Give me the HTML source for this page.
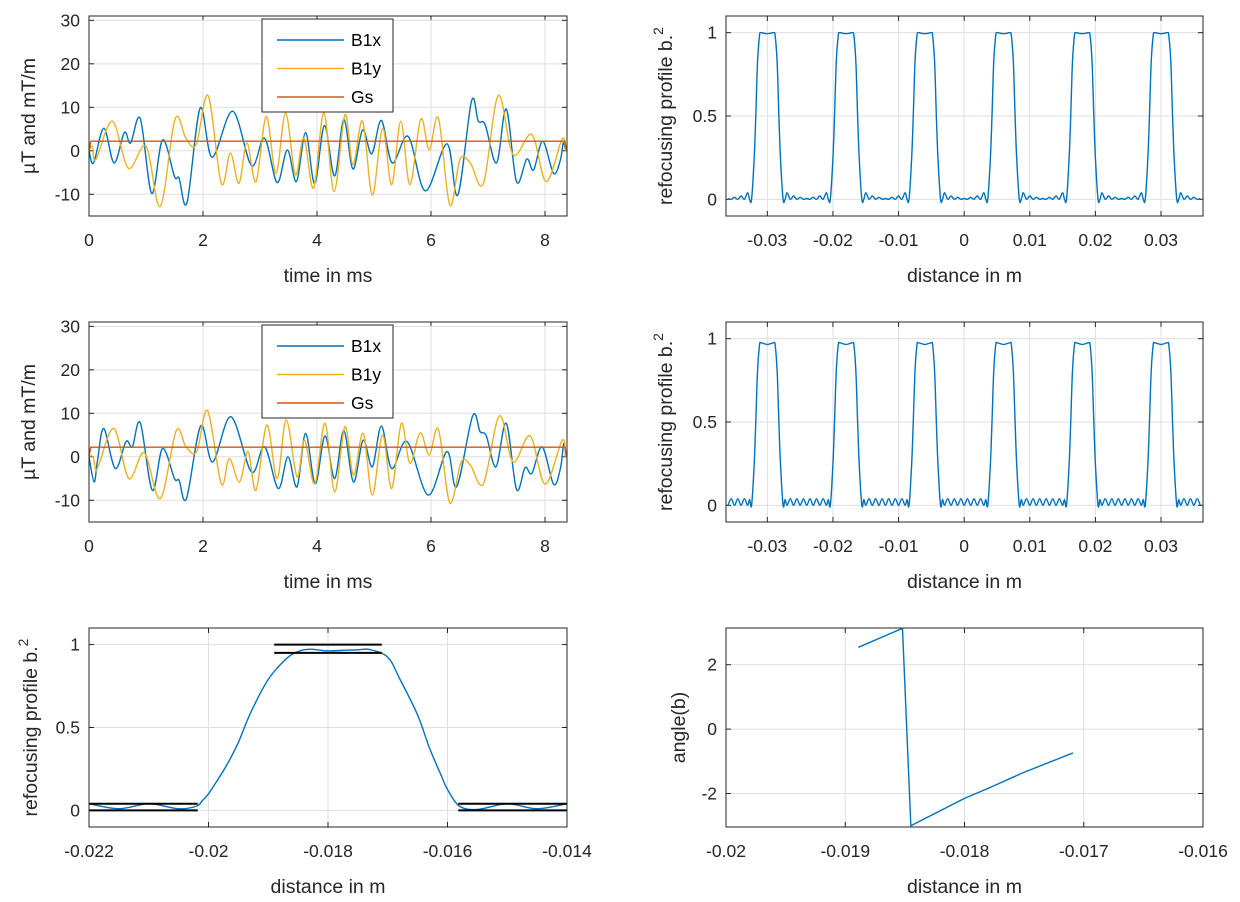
<!DOCTYPE html>
<html><head><meta charset="utf-8"><style>
html,body{margin:0;padding:0;background:#fff;}
svg{display:block;font-family:"Liberation Sans",Arial,sans-serif;}
</style></head><body>
<svg id="fig" width="1240" height="902" viewBox="0 0 1240 902" xmlns="http://www.w3.org/2000/svg"></svg>
<script>
// ---------- DATA ----------
const tl_t  = [0,0.08,0.26,0.44,0.62,0.73,0.9,1.1,1.29,1.5,1.58,1.72,1.95,2.16,2.52,2.85,3.08,3.3,3.48,3.64,3.8,3.96,4.13,4.31,4.47,4.63,4.8,4.96,5.13,5.32,5.6,5.9,6.28,6.47,6.71,6.83,6.95,7.15,7.32,7.5,7.68,7.8,7.96,8.15,8.27,8.32,8.36];
const tl_b1x= [0,-2.8,5.2,-2.8,4.2,1.8,7.4,-9.8,2.5,-5.9,-6.3,-11.9,9.8,-1.5,9.1,-3.4,2.9,-7.3,0.2,-7.1,4.2,-7.5,5.8,-5.8,7.2,-4.2,4.8,-0.7,7,-2.8,3.3,-9.2,1.6,-10.2,11.4,6.8,6,-2.8,9.6,-7.1,-1.9,-4.4,2.2,-5.2,-2.1,1.8,0];
const tl_ty = [0,0.06,0.12,0.41,0.69,1.0,1.25,1.51,1.7,1.88,2.09,2.32,2.48,2.63,2.77,2.93,3.11,3.28,3.45,3.62,3.77,3.94,4.12,4.3,4.49,4.63,4.8,4.97,5.15,5.31,5.47,5.63,5.82,5.97,6.13,6.33,6.51,6.69,6.92,7.18,7.44,7.77,8.02,8.3,8.36];
const tl_b1y= [0,1,-2,6.8,-4,1,-12.8,7.3,2.9,1.4,12.7,-7.5,-0.5,-7.5,1.8,-7.1,7.9,-5.2,8.7,-5.5,2.9,-8.6,8.7,-9.4,8.3,-3.2,6.8,-10.2,5.2,-7.8,6.8,-7.8,7.3,0.2,7.5,-12.5,-1.9,-2.8,-7.5,12.7,-0.9,3.7,-7.1,2.7,0];
const ml_t  = [0,0.09,0.15,0.26,0.46,0.65,0.76,0.9,1.11,1.29,1.5,1.58,1.71,1.96,2.17,2.49,2.85,3.08,3.32,3.49,3.65,3.8,3.97,4.14,4.31,4.47,4.64,4.81,4.97,5.13,5.31,5.58,5.95,6.28,6.45,6.73,6.86,6.97,7.14,7.32,7.5,7.65,7.77,7.95,8.15,8.27,8.33,8.37];
const ml_b1x= [0,-5.8,-0.8,6.5,-2.7,3.5,2.3,7.8,-7.7,1.9,-5,-5.4,-9.6,7.1,-1.2,9.2,-3.5,2.3,-7.3,0,-6.9,5.4,-6.2,4.8,-5,6,-5.8,3.8,-2.3,7.1,-2.7,3.5,-8.8,1.2,-6.9,9.4,5.8,4.8,-2.3,7.7,-7.5,-2.5,-3.8,2.3,-6.3,-2.7,3.1,0];
const ml_ty = [0,0.07,0.12,0.18,0.44,0.7,0.97,1.25,1.53,1.7,1.89,2.08,2.32,2.46,2.64,2.79,2.93,3.12,3.3,3.46,3.65,3.78,3.96,4.14,4.31,4.49,4.64,4.81,4.97,5.15,5.31,5.48,5.63,5.81,5.97,6.13,6.33,6.53,6.69,6.92,7.2,7.44,7.74,8.0,8.3,8.36];
const ml_b1y= [0,0,-3.1,-1.5,6.5,-5,0.9,-9.6,6,2.3,1.2,10.6,-6.2,-0.4,-5.8,1.2,-7.7,7.3,-5,8.5,-4.6,3.8,-6.2,7.7,-8.1,6.9,-4.2,5.4,-8.8,5,-7.3,7.7,-1.5,5.5,0.4,6.3,-10.6,-1.2,-1.9,-6.2,9.4,-1.2,4.8,-6.3,3.8,0];
const gs_t  = [0,0.03,8.35,8.38];
const gs_v  = [0,2.2,2.2,0];
const centers = [-0.03,-0.018,-0.006,0.006,0.018,0.03];
const tr_off = [-0.006,-0.0055,-0.005,-0.0045,-0.004,-0.0035,-0.003,-0.0027,-0.0024,-0.002,-0.00176,-0.0015,-0.0012,-0.001,-0.0005,0,0.0005,0.001,0.0012,0.0015,0.00176,0.002,0.0024,0.0027,0.003,0.0035,0.004,0.0045,0.005,0.0055];
const tr_val = [0.005,0,0.012,0,0.02,0,0.04,0,0.0,0.25,0.5,0.82,0.98,1.0,0.996,0.994,0.996,1.0,0.98,0.82,0.5,0.25,0.0,0,0.04,0,0.02,0,0.012,0];
const mr_val = [0,0.04,0,0.04,0,0.04,0,0.035,0.0,0.25,0.5,0.8,0.96,0.975,0.97,0.965,0.97,0.975,0.96,0.8,0.5,0.25,0.0,0.035,0,0.04,0,0.04,0,0.04];
const bl_x = [-0.022,-0.0215,-0.021,-0.0205,-0.0202,-0.0201,-0.02,-0.0199,-0.0197,-0.0195,-0.0193,-0.019,-0.0187,-0.0185,-0.0183,-0.018,-0.0177,-0.0175,-0.0173,-0.017,-0.0168,-0.0165,-0.0163,-0.0161,-0.016,-0.0158,-0.0155,-0.015,-0.0145,-0.014];
const bl_y = [0.04,0.01,0.04,0.01,0.026,0.06,0.1,0.155,0.27,0.41,0.585,0.79,0.914,0.958,0.972,0.962,0.966,0.968,0.97,0.924,0.794,0.575,0.375,0.206,0.126,0.026,0.006,0.04,0.01,0.04];
const bl_refX = [[-0.0189,-0.0171],[-0.0189,-0.0171],[-0.022,-0.02018],[-0.022,-0.02018],[-0.01582,-0.014],[-0.01582,-0.014]];
const bl_refY = [1,0.95,0.04,0,0.04,0];
const br_x = [-0.01889,-0.01852,-0.01845,-0.0180,-0.01779,-0.0175,-0.01709];
const br_y = [2.54,3.13,-3.0,-2.15,-1.82,-1.34,-0.74];

// ---------- RENDER ----------
const NS="http://www.w3.org/2000/svg";
const svg=document.getElementById('fig');
function el(tag,attrs,parent){const e=document.createElementNS(NS,tag);for(const k in attrs)e.setAttribute(k,attrs[k]);(parent||svg).appendChild(e);return e;}
function smooth(pts){
  if(!pts.length)return '';
  let d='M'+pts[0][0].toFixed(2)+','+pts[0][1].toFixed(2);
  for(let i=0;i<pts.length-1;i++){
    const p0=pts[i-1]||pts[i],p1=pts[i],p2=pts[i+1],p3=pts[i+2]||p2;
    const c1=[p1[0]+(p2[0]-p0[0])/6,p1[1]+(p2[1]-p0[1])/6];
    const c2=[p2[0]-(p3[0]-p1[0])/6,p2[1]-(p3[1]-p1[1])/6];
    d+='C'+c1[0].toFixed(2)+','+c1[1].toFixed(2)+' '+c2[0].toFixed(2)+','+c2[1].toFixed(2)+' '+p2[0].toFixed(2)+','+p2[1].toFixed(2);
  }
  return d;
}
let clipN=0;
function axes(o){
  const g=el('g',{});
  
  
  const X=v=>o.x0+(v-o.xl[0])/(o.xl[1]-o.xl[0])*(o.x1-o.x0);
  const Y=v=>o.y1-(v-o.yl[0])/(o.yl[1]-o.yl[0])*(o.y1-o.y0);
  el('rect',{x:o.x0,y:o.y0,width:o.x1-o.x0,height:o.y1-o.y0,fill:'#fff'},g);
  o.xt.forEach((t,i)=>{const x=X(t);
    el('line',{x1:x,x2:x,y1:o.y0,y2:o.y1,stroke:'#dfdfdf','stroke-width':1},g);
    el('line',{x1:x,x2:x,y1:o.y1,y2:o.y1-5,stroke:'#262626'},g);
    el('line',{x1:x,x2:x,y1:o.y0,y2:o.y0+5,stroke:'#262626'},g);
    const tx=el('text',{x:x,y:o.y1+30,'text-anchor':'middle','font-size':17.5,fill:'#262626'},g);
    tx.textContent=o.xtl[i];
    
    
  });
  o.yt.forEach((t,i)=>{const y=Y(t);
    el('line',{x1:o.x0,x2:o.x1,y1:y,y2:y,stroke:'#dfdfdf','stroke-width':1},g);
    el('line',{x1:o.x0,x2:o.x0+5,y1:y,y2:y,stroke:'#262626'},g);
    el('line',{x1:o.x1,x2:o.x1-5,y1:y,y2:y,stroke:'#262626'},g);
    const tx=el('text',{x:o.x0-9,y:y+6,'text-anchor':'end','font-size':17.5,fill:'#262626'},g);
    tx.textContent=o.ytl[i];
    
    
  });
  const id='c'+(clipN++);
  const cp=el('clipPath',{id:id},g);el('rect',{x:o.x0,y:o.y0,width:o.x1-o.x0,height:o.y1-o.y0},cp);
  const pg=el('g',{'clip-path':'url(#'+id+')'},g);
  o.series.forEach(s=>{
    const pts=s.x.map((v,i)=>[X(v),Y(s.y[i])]);
    const p=el('path',{d:s.straight?('M'+pts.map(q=>q[0].toFixed(2)+','+q[1].toFixed(2)).join('L')):smooth(pts),fill:'none',stroke:s.c,'stroke-width':s.w||1.4,'stroke-linejoin':'round'},pg);
    
    
  });
  el('rect',{x:o.x0,y:o.y0,width:o.x1-o.x0,height:o.y1-o.y0,fill:'none',stroke:'#262626','stroke-width':1},g);
  const xl=el('text',{x:(o.x0+o.x1)/2,y:o.y1+66,'text-anchor':'middle','font-size':19.5,fill:'#262626'},g);
  xl.textContent=o.xlab;
  
  
  const yx=o.ylx, yy=(o.y0+o.y1)/2;
  const yl=el('text',{x:yx,y:yy,'text-anchor':'middle','font-size':19.5,fill:'#262626',transform:'rotate(-90 '+yx+' '+yy+')'},g);
  
  
  if(o.sup){yl.textContent=o.ylab;const ts=el('tspan',{dy:-9,'font-size':14},yl);ts.textContent='2';}
  else yl.textContent=o.ylab;
  return {g,X,Y};
}
function legend(x,y,rows){
  const g=el('g',{});
  
  
  el('rect',{x:x,y:y,width:131,height:93,fill:'#fff',stroke:'#262626','stroke-width':1},g);
  rows.forEach((r,i)=>{const yy=y+21+i*28.5;
    const ln=el('line',{x1:x+15,x2:x+82,y1:yy,y2:yy,stroke:r.c,'stroke-width':1.5},g);
    
    
    const t=el('text',{x:x+89,y:yy+6,'font-size':17.5,fill:'#000'},g);t.textContent=r.n;
    
    
  });
}
const BLUE='#0072bd',YEL='#edb120',RED='#d95319';
function periodic(vals){const x=[],y=[];centers.forEach(c=>tr_off.forEach((o,i)=>{x.push(c+o);y.push(vals[i]);}));x.push(0.036);y.push(vals[0]);return {x,y};}
const trS=periodic(tr_val), mrS=periodic(mr_val);
const tT=[0,2,4,6,8], tTL=['0','2','4','6','8'];
const bT=[-10,0,10,20,30], bTL=['-10','0','10','20','30'];
const pX=[-0.03,-0.02,-0.01,0,0.01,0.02,0.03], pXL=['-0.03','-0.02','-0.01','0','0.01','0.02','0.03'];
axes({name:'pulse-plot-top',x0:89,x1:567,y0:16,y1:216,xl:[0,8.386],yl:[-15,31],xt:tT,xtl:tTL,yt:bT,ytl:bTL,xlab:'time in ms',ylab:'µT and mT/m',ylx:35,
  series:[{x:tl_t,y:tl_b1x,c:BLUE,name:'b1x-line'},{x:tl_ty,y:tl_b1y,c:YEL,name:'b1y-line'},{x:gs_t,y:gs_v,c:RED,name:'gs-line',straight:true}]});
legend(262,19,[{n:'B1x',c:BLUE},{n:'B1y',c:YEL},{n:'Gs',c:RED}]);
axes({name:'profile-plot-top',x0:726,x1:1203,y0:16,y1:216,xl:[-0.0363,0.0364],yl:[-0.1,1.1],xt:pX,xtl:pXL,yt:[0,0.5,1],ytl:['0','0.5','1'],xlab:'distance in m',ylab:'refocusing profile b.',sup:true,ylx:672,
  series:[{x:trS.x,y:trS.y,c:BLUE,name:'profile-line'}]});
axes({name:'pulse-plot-middle',x0:89,x1:567,y0:322,y1:522,xl:[0,8.386],yl:[-15,31],xt:tT,xtl:tTL,yt:bT,ytl:bTL,xlab:'time in ms',ylab:'µT and mT/m',ylx:35,
  series:[{x:ml_t,y:ml_b1x,c:BLUE,name:'b1x-line'},{x:ml_ty,y:ml_b1y,c:YEL,name:'b1y-line'},{x:gs_t,y:gs_v,c:RED,name:'gs-line',straight:true}]});
legend(262,325,[{n:'B1x',c:BLUE},{n:'B1y',c:YEL},{n:'Gs',c:RED}]);
axes({name:'profile-plot-middle',x0:726,x1:1203,y0:322,y1:522,xl:[-0.0363,0.0364],yl:[-0.1,1.1],xt:pX,xtl:pXL,yt:[0,0.5,1],ytl:['0','0.5','1'],xlab:'distance in m',ylab:'refocusing profile b.',sup:true,ylx:672,
  series:[{x:mrS.x,y:mrS.y,c:BLUE,name:'profile-line'}]});
const refSeries=bl_refY.map((v,i)=>({x:bl_refX[i],y:[v,v],c:'#000',w:2,straight:true,name:'tolerance-line'}));
axes({name:'single-profile-plot',x0:89,x1:567,y0:628,y1:827,xl:[-0.022,-0.014],yl:[-0.1,1.1],xt:[-0.022,-0.02,-0.018,-0.016,-0.014],xtl:['-0.022','-0.02','-0.018','-0.016','-0.014'],yt:[0,0.5,1],ytl:['0','0.5','1'],xlab:'distance in m',ylab:'refocusing profile b.',sup:true,ylx:37,
  series:[{x:bl_x,y:bl_y,c:BLUE,name:'profile-line'}].concat(refSeries)});
axes({name:'phase-plot',x0:726,x1:1203,y0:628,y1:827,xl:[-0.02,-0.016],yl:[-3.04,3.14],xt:[-0.02,-0.019,-0.018,-0.017,-0.016],xtl:['-0.02','-0.019','-0.018','-0.017','-0.016'],yt:[-2,0,2],ytl:['-2','0','2'],xlab:'distance in m',ylab:'angle(b)',ylx:685,
  series:[{x:br_x,y:br_y,c:BLUE,name:'angle-line',straight:true}]});
</script>
</body></html>
